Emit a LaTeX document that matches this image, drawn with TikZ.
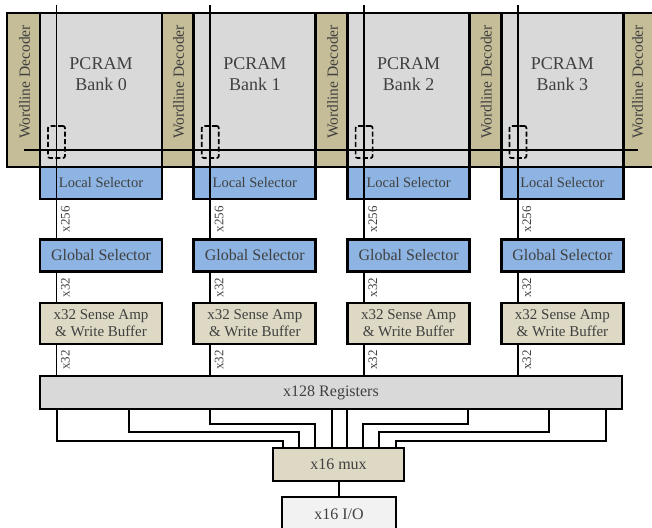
\documentclass[tikz,border=0pt]{standalone}
\usepackage{fontspec}
\setmainfont{Liberation Serif}
\newfontfamily\diagfont{LiberationSerif-Regular.ttf}
\definecolor{decoderfill}{RGB}{196,189,151}
\definecolor{arrayfill}{RGB}{217,217,217}
\definecolor{selfill}{RGB}{141,180,226}
\definecolor{ampfill}{RGB}{221,217,196}
\definecolor{iofill}{RGB}{242,242,242}
\definecolor{txt}{RGB}{64,64,64}
\newcommand{\fsz}[1]{\diagfont\fontsize{#1}{#1}\selectfont}
\tikzset{
  blk/.style={draw=black, line width=2.7pt, text=txt, align=center, inner sep=0pt, outer sep=0pt},
  wire/.style={draw=black, line width=1.7pt},
  celldash/.style={draw=black, line width=1.7pt, dash pattern=on 5pt off 2.5pt, rounded corners=2pt,
    minimum width=17pt, minimum height=32pt, inner sep=0pt},
  lbl/.style={rotate=90, anchor=north, inner sep=0pt, outer sep=4.5pt, text=txt,
    font=\fsz{13}},
  banktext/.style={text=txt, align=center, font=\diagfont\fontsize{18}{21}\selectfont},
  dectext/.style={text=txt, rotate=90, font=\fsz{15.5}},
}
\begin{document}
\begin{tikzpicture}[x=1pt,y=-1pt]
\useasboundingbox (0,0) rectangle (652,527);

% wordline decoders, left of each bank and one at the far right
\node[blk, fill=decoderfill, minimum width=33pt, minimum height=154pt] (dec0) at (23.5,90) {};
\node[dectext] (dect0) at (24.5,82) {Wordline Decoder};
\foreach \k in {1,2,3} {
  \pgfmathsetmacro{\dx}{40+153.8*\k-15.9}
  \node[blk, fill=decoderfill, minimum width=31.8pt, minimum height=154pt] (dec\k) at (\dx,90) {};
  \node[dectext] (dect\k) at (\dx+0.8,82) {Wordline Decoder};
}
\node[blk, fill=decoderfill, minimum width=34pt, minimum height=154pt] (dec4) at (639.5,90) {};
\node[dectext] (dect4) at (637.5,82) {Wordline Decoder};

% memory banks
\foreach \k in {0,...,3} {
  \pgfmathsetmacro{\cx}{40+153.8*\k+61}
  \node[blk, fill=arrayfill, minimum width=122pt, minimum height=154pt] (bank\k) at (\cx,90) {};
  \node[banktext] (bankt\k) at (\cx,74) {PCRAM\\Bank \k};
}

% shared wordline
\coordinate (wl0) at (24,150);
\coordinate (wl1) at (637.5,150);
\draw[wire] (wl0) -- (wl1);

% cells, local selectors and vertical bit lines
\foreach \k in {0,...,3} {
  \pgfmathsetmacro{\cx}{40+153.8*\k+61}
  \pgfmathsetmacro{\bx}{40+153.8*\k+16.5}
  \node[celldash] (cell\k) at (\bx,142) {};
  \node[blk, fill=selfill, minimum width=122pt, minimum height=32pt,
        font=\fsz{14.5}] (loc\k) at (\cx,183) {Local Selector};
  \coordinate (top\k) at (\bx,5);
  \draw[wire] (top\k) -- (loc\k.south -| top\k);
  \node[blk, fill=selfill, minimum width=122pt, minimum height=32.5pt,
        font=\fsz{16}] (glob\k) at (\cx,255.5) {Global Selector};
  \node[blk, fill=ampfill, minimum width=122pt, minimum height=41pt,
        font=\diagfont\fontsize{15}{17}\selectfont] (amp\k) at (\cx,323.5) {x32 Sense Amp\\\& Write Buffer};
  \draw[wire] (loc\k.south -| top\k) -- node[lbl, midway] {x256} (glob\k.north -| top\k);
  \draw[wire] (glob\k.south -| top\k) -- node[lbl, midway] {x32} (amp\k.north -| top\k);
}

% register file, multiplexer and I/O
\node[blk, fill=arrayfill, minimum width=582pt, minimum height=33pt,
      font=\fsz{16}] (reg) at (331,392.5) {x128 Registers};
\foreach \k in {0,...,3} {
  \draw[wire] (amp\k.south -| top\k) -- node[lbl, midway] {x32} (reg.north -| top\k);
}
\node[blk, fill=ampfill, minimum width=131pt, minimum height=33pt,
      font=\fsz{16}] (mux) at (338.5,464.5) {x16 mux};
\node[blk, fill=iofill, minimum width=114pt, minimum height=40pt] (io) at (339,517) {};
\node[text=txt, font=\fsz{16}, inner sep=0pt] (iot) at (339,514) {x16 I/O};

\foreach \i/\sx/\tx/\dy in {1/57/283/32, 2/129/299/23, 3/210/315/15, 4/332/332/0,
                            5/347/347/0, 6/468/363/15, 7/549/379/23, 8/606/396/32} {
  \coordinate (src\i) at (\sx,0);
  \coordinate (dst\i) at (\tx,0);
  \draw[wire] (reg.south -| src\i) -- ++(0,\dy) -| (mux.north -| dst\i);
}
\draw[wire] (mux.south -| io.north) -- (io.north);
\end{tikzpicture}
\end{document}
